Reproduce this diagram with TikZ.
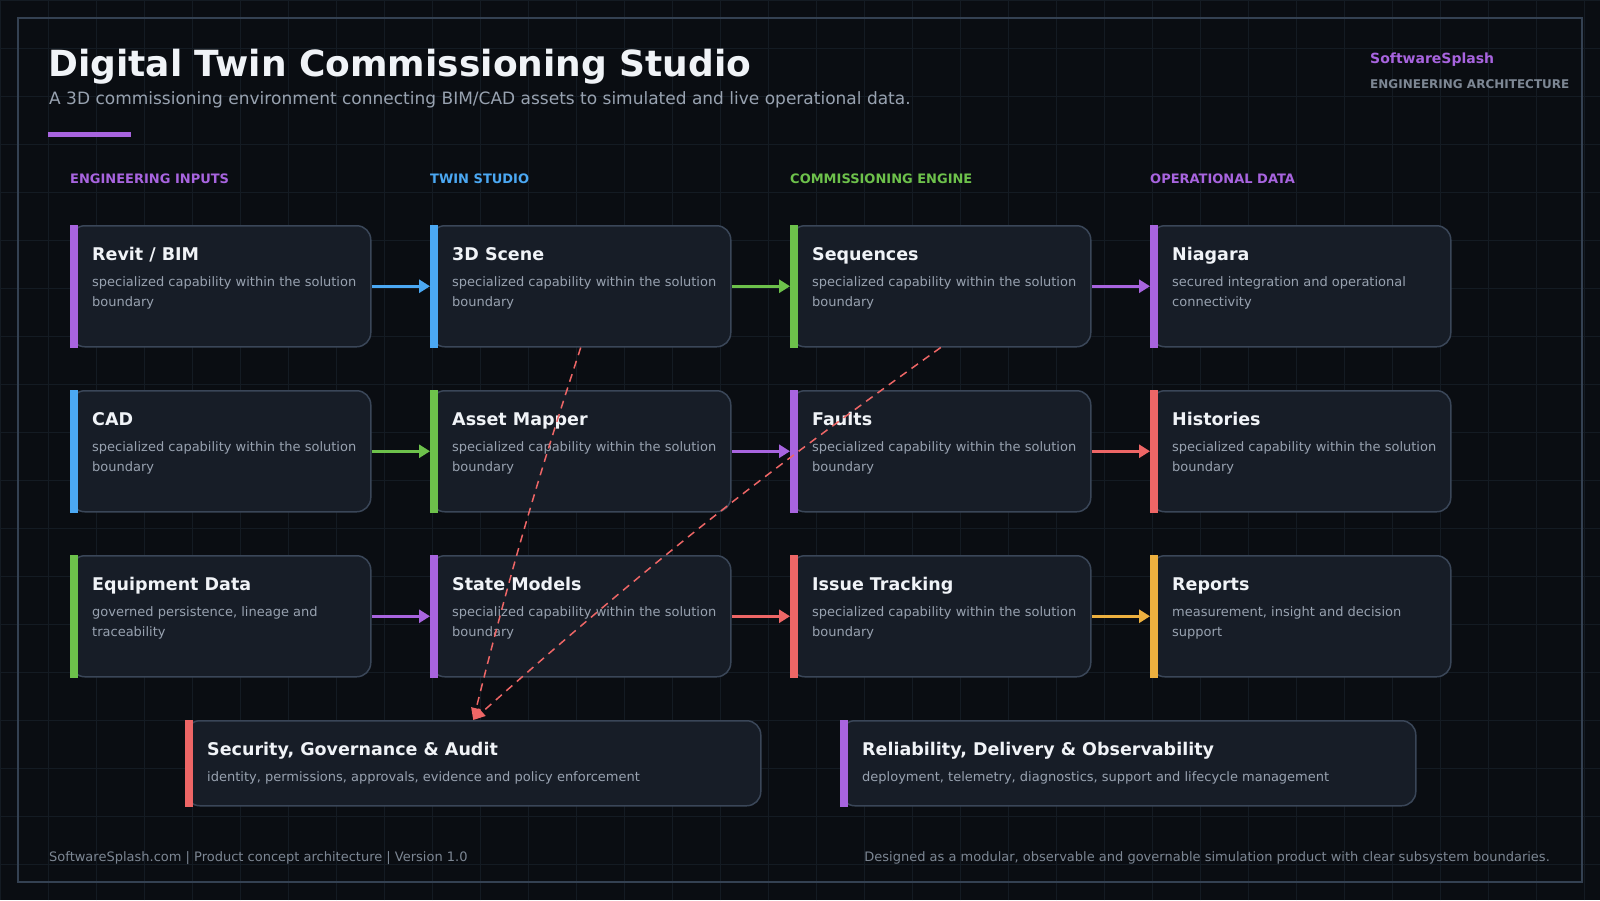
\documentclass[tikz,border=0pt]{standalone}
\usepackage{fontspec}
\setmainfont{DejaVu Sans}
\usetikzlibrary{arrows.meta}

\definecolor{bgc}{HTML}{0A0D12}
\definecolor{gridc}{HTML}{141B23}
\definecolor{framec}{HTML}{344152}
\definecolor{cardc}{HTML}{171D27}
\definecolor{linec}{HTML}{3A4658}
\definecolor{ttlc}{HTML}{F0F3F7}
\definecolor{txtc}{HTML}{98A2B0}
\definecolor{mutec}{HTML}{7D8794}
\definecolor{purp}{HTML}{A864DF}
\definecolor{blu}{HTML}{4BA8F3}
\definecolor{grn}{HTML}{6DC14B}
\definecolor{redc}{HTML}{EE6666}
\definecolor{orng}{HTML}{EDB03F}

% name, x, y, width, height, colour, title, text
\newcommand{\mkcard}[8]{%
  \node[card, minimum width=#4pt, minimum height=#5pt] (#1) at (#2,-#3) {};
  \fill[#6] (#1.north west) rectangle ([xshift=8pt]#1.south west);
  \node[ttl] at ([shift={(22pt,-35pt)}]#1.north west) {#7};
  \node[desc] at ([shift={(22pt,-61pt)}]#1.north west) {\parbox[t]{540pt}{#8}};
}

\begin{document}
\begin{tikzpicture}[
  x=1pt, y=1pt,
  card/.style={draw=linec, fill=cardc, line width=1.5pt, rounded corners=14pt, anchor=north west, inner sep=0pt},
  ttl/.style={anchor=base west, inner sep=0pt, text=ttlc, font=\fontsize{17.5}{21}\selectfont\bfseries},
  desc/.style={anchor=base west, inner sep=0pt, text=txtc, font=\fontsize{13}{20}\selectfont},
  colhead/.style={anchor=base west, inner sep=0pt, font=\fontsize{13}{16}\selectfont\bfseries},
  flow/.style={line width=3pt, -{Triangle[length=11pt,width=13pt]}},
  dep/.style={draw=redc, line width=1.5pt, dash pattern=on 8pt off 6pt, -{Triangle[length=12pt,width=10pt]}}
]
\fill[bgc] (0,0) rectangle (1600,-900);
\useasboundingbox (0,0) rectangle (1600,-900);
\draw[gridc, line width=1pt] (0,0) grid[step=48] (1600,-900);
\draw[framec, line width=2pt] (18,-18) rectangle (1582,-882);

% header
\node[anchor=base west, inner sep=0pt, text=ttlc, font=\fontsize{36}{40}\selectfont\bfseries] (title) at (48,-76) {Digital Twin Commissioning Studio};
\node[anchor=base west, inner sep=0pt, text=txtc, font=\fontsize{17}{20}\selectfont] (subtitle) at (49,-104) {A 3D commissioning environment connecting BIM/CAD assets to simulated and live operational data.};
\fill[purp] (48,-132) rectangle (131,-137);
\node[anchor=base west, inner sep=0pt, text=purp, font=\fontsize{14}{16}\selectfont\bfseries] (brand) at (1370,-63) {SoftwareSplash};
\node[anchor=base west, inner sep=0pt, text=mutec, font=\fontsize{12}{14}\selectfont\bfseries] (tag) at (1370,-88) {ENGINEERING ARCHITECTURE};

% columns
\node[colhead, text=purp] (h1) at (70,-183) {ENGINEERING INPUTS};
\node[colhead, text=blu] (h2) at (430,-183) {TWIN STUDIO};
\node[colhead, text=grn] (h3) at (790,-183) {COMMISSIONING ENGINE};
\node[colhead, text=purp] (h4) at (1150,-183) {OPERATIONAL DATA};

\mkcard{revit}{70}{225}{300}{121}{purp}{Revit / BIM}{specialized capability within the solution\\boundary}
\mkcard{cad}{70}{390}{300}{121}{blu}{CAD}{specialized capability within the solution\\boundary}
\mkcard{equip}{70}{555}{300}{121}{grn}{Equipment Data}{governed persistence, lineage and\\traceability}
\mkcard{scene}{430}{225}{300}{121}{blu}{3D Scene}{specialized capability within the solution\\boundary}
\mkcard{mapper}{430}{390}{300}{121}{grn}{Asset Mapper}{specialized capability within the solution\\boundary}
\mkcard{states}{430}{555}{300}{121}{purp}{State Models}{specialized capability within the solution\\boundary}
\mkcard{seqs}{790}{225}{300}{121}{grn}{Sequences}{specialized capability within the solution\\boundary}
\mkcard{faults}{790}{390}{300}{121}{purp}{Faults}{specialized capability within the solution\\boundary}
\mkcard{issues}{790}{555}{300}{121}{redc}{Issue Tracking}{specialized capability within the solution\\boundary}
\mkcard{niagara}{1150}{225}{300}{121}{purp}{Niagara}{secured integration and operational\\connectivity}
\mkcard{hist}{1150}{390}{300}{121}{redc}{Histories}{specialized capability within the solution\\boundary}
\mkcard{reports}{1150}{555}{300}{121}{orng}{Reports}{measurement, insight and decision\\support}
\mkcard{secgov}{185}{720}{575}{85}{redc}{Security, Governance \& Audit}{identity, permissions, approvals, evidence and policy enforcement}
\mkcard{reliab}{840}{720}{575}{85}{purp}{Reliability, Delivery \& Observability}{deployment, telemetry, diagnostics, support and lifecycle management}

% flows
\draw[flow, blu] (revit.east) -- (scene.west);
\draw[flow, grn] (scene.east) -- (seqs.west);
\draw[flow, purp] (seqs.east) -- (niagara.west);
\draw[flow, grn] (cad.east) -- (mapper.west);
\draw[flow, purp] (mapper.east) -- (faults.west);
\draw[flow, redc] (faults.east) -- (hist.west);
\draw[flow, purp] (equip.east) -- (states.west);
\draw[flow, redc] (states.east) -- (issues.west);
\draw[flow, orng] (issues.east) -- (reports.west);

\draw[dep] (scene.south) to[bend right=2] (secgov.north);
\draw[dep] (seqs.south) to[bend right=3] (secgov.north);

% footer
\node[anchor=base west, inner sep=0pt, text=mutec, font=\fontsize{13}{16}\selectfont] (foot1) at (49,-861) {SoftwareSplash.com | Product concept architecture | Version 1.0};
\node[anchor=base east, inner sep=0pt, text=mutec, font=\fontsize{13}{16}\selectfont] (foot2) at (1550,-861) {Designed as a modular, observable and governable simulation product with clear subsystem boundaries.};
\end{tikzpicture}
\end{document}
